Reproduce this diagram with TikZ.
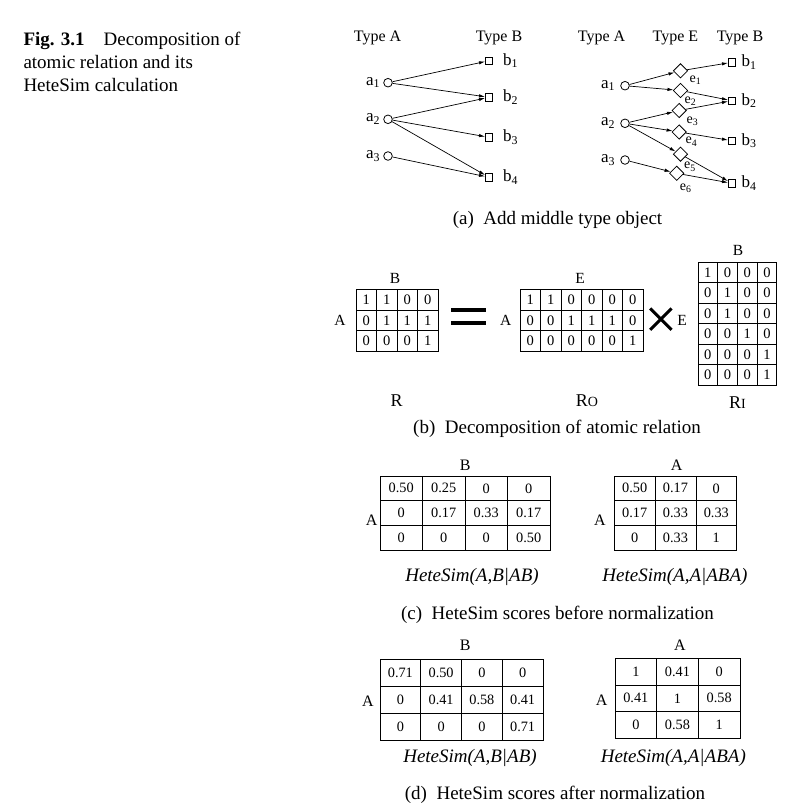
\documentclass[tikz,border=0pt]{standalone}
\usepackage{fontspec}
\setmainfont{Liberation Serif}
\usetikzlibrary{arrows.meta,positioning,shapes.geometric}

\tikzset{
  capline/.style={anchor=base west, inner sep=0pt, font=\fontsize{19}{23}\selectfont},
  subcap/.style={anchor=base, inner sep=0pt, font=\fontsize{19}{23}\selectfont},
  typelabel/.style={anchor=base, inner sep=0pt, font=\fontsize{16}{19}\selectfont},
  objA/.style={circle, draw, line width=0.8pt, minimum size=8.6pt, inner sep=0pt},
  objB/.style={rectangle, draw, line width=0.8pt, minimum size=7.2pt, inner sep=0pt},
  objE/.style={diamond, draw, line width=0.8pt, minimum size=14.5pt, inner sep=0pt},
  objlabel/.style={inner sep=0pt, font=\fontsize{17}{20}\selectfont},
  elabel/.style={inner sep=0pt, font=\fontsize{14}{16}\selectfont},
  link/.style={line width=0.7pt, -{Latex[length=6pt,width=3.4pt]}},
  mcell/.style={rectangle, draw, line width=0.8pt, minimum width=20.5pt,
    minimum height=20.5pt, inner sep=0pt, font=\fontsize{14.5}{17}\selectfont},
  tcell/.style={rectangle, draw, line width=0.8pt, inner sep=0pt,
    font=\fontsize{14.3}{17}\selectfont},
  mlabel/.style={anchor=base, inner sep=0pt, font=\fontsize{15.5}{18}\selectfont},
  tlabel/.style={anchor=base, inner sep=0pt, font=\fontsize{16}{19}\selectfont},
  relname/.style={anchor=base, inner sep=0pt, font=\fontsize{18}{21}\selectfont},
  scorename/.style={anchor=base, inner sep=0pt, font=\fontsize{19}{23}\itshape},
  opsign/.style={line width=4.2pt},
  timessign/.style={line width=3pt}
}

\newcommand{\smallcap}[1]{{\fontsize{14}{16}\selectfont #1}}

\begin{document}
\begin{tikzpicture}[x=1pt,y=-1pt]
  \useasboundingbox (0,0) rectangle (790,812);

  % figure caption
  \node[capline] (cap1) at (23.3,45) {\textbf{Fig. 3.1}\quad Decomposition of};
  \node[capline] (cap2) at (23.3,68.3) {atomic relation and its};
  \node[capline] (cap3) at (23.3,91.7) {HeteSim calculation};

  % (a) left: A -- B
  \node[typelabel] (ltA) at (377.5,41.7) {Type A};
  \node[typelabel] (ltB) at (499,41.7) {Type B};
  \node[objA] (la1) at (388,82.7) {};
  \node[objA] (la2) at (388,119.3) {};
  \node[objA] (la3) at (388,156) {};
  \node[objB] (lb1) at (489,60.7) {};
  \node[objB] (lb2) at (489,97.3) {};
  \node[objB] (lb3) at (489,137.3) {};
  \node[objB] (lb4) at (489,177.3) {};
  \foreach \i in {1,2,3}
    \node[objlabel, left=3pt of la\i] (la\i l) {a\textsubscript{\i}};
  \foreach \i in {1,...,4}
    \node[objlabel, anchor=west, right=10pt of lb\i] (lb\i l) {b\textsubscript{\i}};
  \foreach \s/\t in {la1/lb1, la1/lb2, la2/lb2, la2/lb3, la2/lb4, la3/lb4}
    \draw[link] (\s) -- (\t);

  % (a) right: A -- E -- B
  \node[typelabel] (rtA) at (601.5,41.7) {Type A};
  \node[typelabel] (rtE) at (675.5,41.7) {Type E};
  \node[typelabel] (rtB) at (740,41.7) {Type B};
  \node[objA] (ra1) at (625,85.7) {};
  \node[objA] (ra2) at (625,123.3) {};
  \node[objA] (ra3) at (625,160) {};
  \node[objE] (re1) at (680.5,70.8) {};
  \node[objE] (re2) at (680.5,90.5) {};
  \node[objE] (re3) at (679.2,110.5) {};
  \node[objE] (re4) at (679.2,132) {};
  \node[objE] (re5) at (680.5,154.2) {};
  \node[objE] (re6) at (676.7,173.3) {};
  \node[objB] (rb1) at (732,62.3) {};
  \node[objB] (rb2) at (732,100.7) {};
  \node[objB] (rb3) at (732,140.7) {};
  \node[objB] (rb4) at (732,183.3) {};
  \foreach \i in {1,2,3}
    \node[objlabel, left=5pt of ra\i] (ra\i l) {a\textsubscript{\i}};
  \foreach \i in {1,...,4}
    \node[objlabel, right=5.5pt of rb\i] (rb\i l) {b\textsubscript{\i}};
  \foreach \i/\x/\y in {1/695.5/80, 2/690.5/101, 3/692.5/121, 4/691.5/141.7, 5/690/166.7, 6/685.8/188.3}
    \node[elabel] (re\i l) at (\x,\y) {e\textsubscript{\i}};
  \foreach \s/\t in {ra1/re1, ra1/re2, ra2/re3, ra2/re4, ra2/re5, ra3/re6,
                     re1/rb1, re2/rb2, re3/rb2, re4/rb3, re5/rb4, re6/rb4}
    \draw[link] (\s) -- (\t);

  \node[subcap] (capa) at (557.5,224.3) {(a)\enspace Add middle type object};

  % (b) R = Ro x RI
  \foreach \row [count=\i] in {{1,1,0,0},{0,1,1,1},{0,0,0,1}}
    \foreach \v [count=\j] in \row
      \node[mcell] (R-\i-\j) at ({356+20.5*(\j-0.5)},{289.5+20.5*(\i-0.5)}) {\v};
  \node[mlabel] (RB) at (395,283.3) {B};
  \node[mlabel] (RA) at (340,325) {A};
  \node[relname] (Rname) at (396.5,406) {R};

  \draw[opsign] (451,310) -- (486,310);
  \draw[opsign] (451,323.3) -- (486,323.3);

  \foreach \row [count=\i] in {{1,1,0,0,0,0},{0,0,1,1,1,0},{0,0,0,0,0,1}}
    \foreach \v [count=\j] in \row
      \node[mcell] (Ro-\i-\j) at ({520+20.5*(\j-0.5)},{289.5+20.5*(\i-0.5)}) {\v};
  \node[mlabel] (RoE) at (580,283.3) {E};
  \node[mlabel] (RoA) at (505.8,325) {A};
  \node[relname] (Roname) at (587,406) {R\smallcap{O}};

  \draw[timessign] (650.2,308.4) -- (671.6,329.8);
  \draw[timessign] (650.2,329.8) -- (671.6,308.4);

  \foreach \row [count=\i] in {{1,0,0,0},{0,1,0,0},{0,1,0,0},{0,0,1,0},{0,0,0,1},{0,0,0,1}}
    \foreach \v [count=\j] in \row
      \node[mcell, minimum width=19.7pt] (RI-\i-\j) at ({698+19.7*(\j-0.5)},{262+20.5*(\i-0.5)}) {\v};
  \node[mlabel] (RIB) at (738,255) {B};
  \node[mlabel] (RIE) at (682,325) {E};
  \node[relname] (RIname) at (737.5,408) {R\smallcap{I}};

  \node[subcap] (capb) at (557,433) {(b)\enspace Decomposition of atomic relation};

  % (c) scores before normalization
  \foreach \row [count=\i] in {{0.50,0.25,0,0},{0,0.17,0.33,0.17},{0,0,0,0.50}}
    \foreach \v [count=\j] in \row
      \node[tcell, minimum width=42.5pt, minimum height=24.67pt] (cAB-\i-\j)
        at ({380+42.5*(\j-0.5)},{476+24.67*(\i-0.5)}) {\v};
  \node[tlabel] (cABtop) at (465.3,470.7) {B};
  \node[tlabel] (cABleft) at (371.7,525) {A};
  \node[scorename] (cABname) at (472,581) {HeteSim(A,B|AB)};

  \foreach \row [count=\i] in {{0.50,0.17,0},{0.17,0.33,0.33},{0,0.33,1}}
    \foreach \v [count=\j] in \row
      \node[tcell, minimum width=40.8pt, minimum height=24.67pt] (cAA-\i-\j)
        at ({614.3+40.8*(\j-0.5)},{476+24.67*(\i-0.5)}) {\v};
  \node[tlabel] (cAAtop) at (676.7,470.7) {A};
  \node[tlabel] (cAAleft) at (600,525) {A};
  \node[scorename] (cAAname) at (675,581) {HeteSim(A,A|ABA)};

  \node[subcap] (capc) at (557.5,619) {(c)\enspace HeteSim scores before normalization};

  % (d) scores after normalization
  \foreach \row [count=\i] in {{0.71,0.50,0,0},{0,0.41,0.58,0.41},{0,0,0,0.71}}
    \foreach \v [count=\j] in \row
      \node[tcell, minimum width=40.75pt, minimum height=26.8pt] (dAB-\i-\j)
        at ({380+40.75*(\j-0.5)},{659.5+26.8*(\i-0.5)}) {\v};
  \node[tlabel] (dABtop) at (465.3,650.7) {B};
  \node[tlabel] (dABleft) at (368,706.7) {A};
  \node[scorename] (dABname) at (470,762.5) {HeteSim(A,B|AB)};

  \foreach \row [count=\i] in {{1,0.41,0},{0.41,1,0.58},{0,0.58,1}}
    \foreach \v [count=\j] in \row
      \node[tcell, minimum width=41.67pt, minimum height=26.67pt] (dAA-\i-\j)
        at ({615+41.67*(\j-0.5)},{658.3+26.67*(\i-0.5)}) {\v};
  \node[tlabel] (dAAtop) at (680,650.7) {A};
  \node[tlabel] (dAAleft) at (601.7,705) {A};
  \node[scorename] (dAAname) at (673.3,762.5) {HeteSim(A,A|ABA)};

  \node[subcap] (capd) at (555,799) {(d)\enspace HeteSim scores after normalization};
\end{tikzpicture}
\end{document}
